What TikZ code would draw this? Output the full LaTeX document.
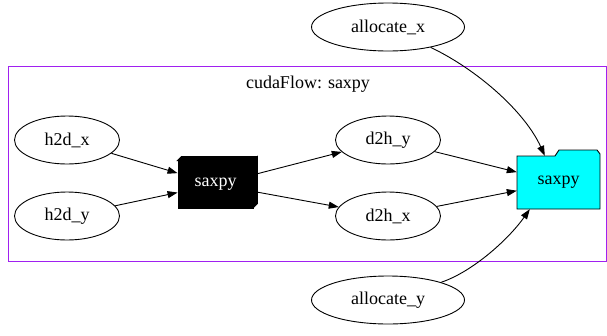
\documentclass[tikz,border=0pt]{standalone}
\usepackage{fontspec}
\setmainfont{Liberation Serif}
\usetikzlibrary{arrows.meta,calc,positioning,shapes.geometric}
\definecolor{clusterpurple}{HTML}{A020F0}
\definecolor{resultcyan}{HTML}{00FFFF}

\begin{document}
\begin{tikzpicture}[x=1pt, y=-1pt,
    font=\fontsize{18}{21}\selectfont,
    task/.style={draw, ellipse, line width=0.9pt, inner sep=0pt, minimum width=105pt, minimum height=48pt},
    flow/.style={line width=0.9pt, -{Triangle[length=10pt,width=7pt]}}]
          \useasboundingbox (0, 0) rectangle (607, 335);

          \draw[clusterpurple, line width=0.9pt] (8, 66) rectangle (606, 261);
          \node (cflabel) at (308, 84) {cudaFlow: saxpy};

          \node[task, minimum width=153pt] (allocx) at (388, 27) {allocate\_x};
          \node[task, minimum width=153pt] (allocy) at (388, 300) {allocate\_y};
          \node[task] (h2dx) at (67, 140) {h2d\_x};
          \node[task] (h2dy) at (67, 216) {h2d\_y};
          \node[task] (d2hy) at (388, 140) {d2h\_y};
          \node[task] (d2hx) at (388, 216) {d2h\_x};

          \node[draw, fill=black, text=white, line width=0.9pt, minimum width=75pt, minimum height=47pt, inner sep=0pt] (kernel) at (215.5, 184.5) {saxpy};
          \draw[fill=black, line width=0.9pt] (kernel.north west) -- ++(4, -4) -- ++(75, 0) -- ++(-4, 4) -- cycle;
          \draw[fill=black, line width=0.9pt] (kernel.north east) -- ++(4, -4) -- ++(0, 47) -- ++(-4, 4) -- cycle;

          \draw[fill=resultcyan, line width=0.9pt] (517, 209) -- (517, 156) -- (555, 156) -- (559, 150) -- (597, 150) -- (600, 154) -- (600, 209) -- cycle;
          \node[minimum width=83pt, minimum height=53pt, inner sep=0pt] (result) at (558.5, 182.5) {saxpy};

          \draw[flow] (h2dx) -- (kernel);
          \draw[flow] (h2dy) -- (kernel);
          \draw[flow] (kernel) -- (d2hy);
          \draw[flow] (kernel) -- (d2hx);
          \draw[flow] (d2hy) -- (result);
          \draw[flow] (d2hx) -- (result);
          \draw[flow] (allocx) .. controls (478, 70) and (525, 112) .. ([xshift=28pt]result.north west);
          \draw[flow] (allocy) .. controls (472, 272) and (508, 240) .. ([xshift=13pt]result.south west);
        \end{tikzpicture}
\end{document}
